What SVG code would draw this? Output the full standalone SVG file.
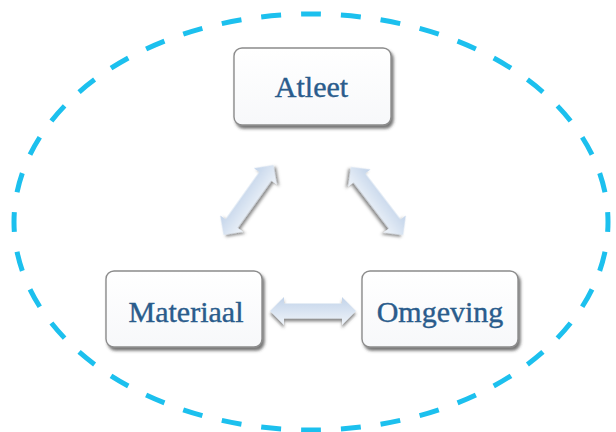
<svg xmlns="http://www.w3.org/2000/svg" width="616" height="432" viewBox="0 0 616 432">
  <style>
    .box { fill: url(#boxFill); stroke: #8c8c8c; stroke-width: 1.4; filter: url(#boxShadow); }
    .label { font-family: "Liberation Serif", "DejaVu Serif", serif; font-size: 30px; fill: #2a5c8c; stroke: #2a5c8c; stroke-width: 0.4; text-anchor: middle; }
    .arrow { fill: url(#arrowFill); filter: url(#arrowShadow); }
  </style>
  <defs>
    <linearGradient id="boxFill" x1="0" y1="0" x2="0" y2="1">
      <stop offset="0" stop-color="#ffffff"/>
      <stop offset="1" stop-color="#f7f8fa"/>
    </linearGradient>
    <linearGradient id="arrowFill" x1="0" y1="-13" x2="0" y2="13" gradientUnits="userSpaceOnUse">
      <stop offset="0" stop-color="#c3d4ea"/>
      <stop offset="1" stop-color="#eef3f9"/>
    </linearGradient>
    <filter id="boxShadow" x="-10%" y="-10%" width="125%" height="135%">
      <feDropShadow dx="2" dy="3" stdDeviation="1.8" flood-color="#3c3c3c" flood-opacity="0.7"/>
    </filter>
    <filter id="arrowShadow" x="-20%" y="-40%" width="140%" height="200%">
      <feDropShadow dx="0" dy="3" stdDeviation="1.6" flood-color="#3c3c3c" flood-opacity="0.6"/>
    </filter>
    <!-- double-headed block arrow, centred on the origin, pointing along x -->
    <path id="dblArrow" d="M-43,0 L-29,-14 L-29,-7.5 L29,-7.5 L29,-14 L43,0 L29,14 L29,7.5 L-29,7.5 L-29,14 Z"/>
  </defs>

  <!-- dashed boundary -->
  <ellipse cx="311" cy="222" rx="297" ry="208" fill="none" stroke="#1cc0ee" stroke-width="5"
           pathLength="1600" stroke-dasharray="20 20" stroke-dashoffset="10"/>

  <g id="connectors">
    <use href="#dblArrow" class="arrow" transform="translate(248.5,200) rotate(-54.5)"/>
    <use href="#dblArrow" class="arrow" transform="translate(377,201) rotate(52.5)"/>
    <use href="#dblArrow" class="arrow" transform="translate(313,311)"/>
  </g>

  <g id="atleet">
    <rect class="box" x="234" y="48" width="157" height="77" rx="8"/>
    <text class="label" x="311.5" y="97">Atleet</text>
  </g>
  <g id="materiaal">
    <rect class="box" x="106" y="271" width="156" height="76" rx="8"/>
    <text class="label" x="186" y="322">Materiaal</text>
  </g>
  <g id="omgeving">
    <rect class="box" x="362" y="271" width="156" height="76" rx="8"/>
    <text class="label" x="440" y="322">Omgeving</text>
  </g>
</svg>
